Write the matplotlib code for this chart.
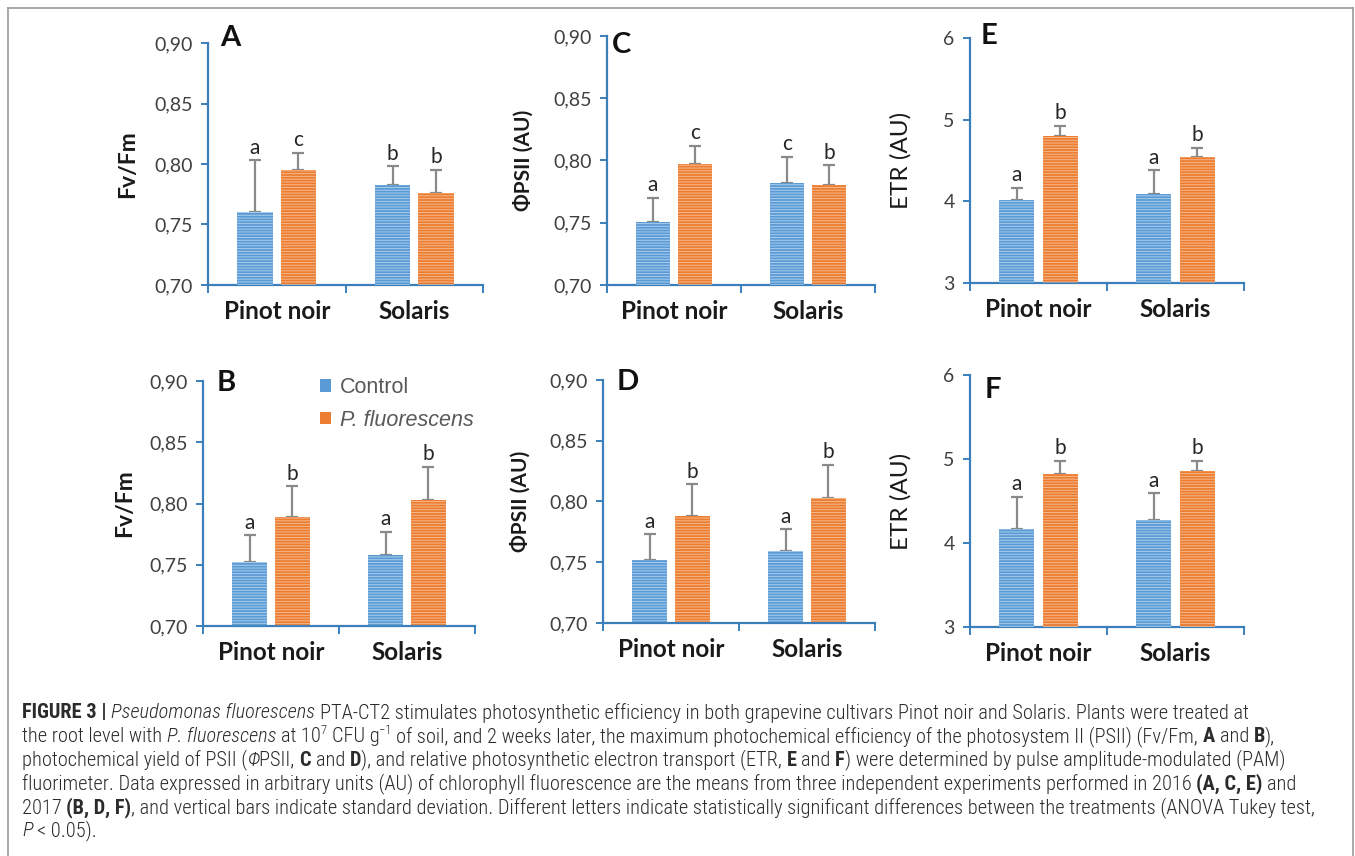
import matplotlib
matplotlib.use("Agg")
import matplotlib.pyplot as plt
from matplotlib import font_manager
from matplotlib.lines import Line2D
from matplotlib.patches import Patch

W, H = 1355, 856

cultivars = ["Pinot noir", "Solaris"]
treatments = ["Control", "P. fluorescens"]

# means and top of error bar, per panel: [Pinot noir, Solaris]
a_ctrl, a_ctrl_top = [0.760, 0.783], [0.803, 0.798]
a_pf, a_pf_top = [0.795, 0.776], [0.809, 0.795]
a_letters = [["a", "c"], ["b", "b"]]

b_ctrl, b_ctrl_top = [0.752, 0.758], [0.774, 0.777]
b_pf, b_pf_top = [0.789, 0.803], [0.814, 0.830]
b_letters = [["a", "b"], ["a", "b"]]

c_ctrl, c_ctrl_top = [0.751, 0.782], [0.770, 0.803]
c_pf, c_pf_top = [0.797, 0.780], [0.812, 0.796]
c_letters = [["a", "c"], ["c", "b"]]

d_ctrl, d_ctrl_top = [0.752, 0.759], [0.773, 0.777]
d_pf, d_pf_top = [0.788, 0.803], [0.814, 0.830]
d_letters = [["a", "b"], ["a", "b"]]

e_ctrl, e_ctrl_top = [4.02, 4.09], [4.16, 4.38]
e_pf, e_pf_top = [4.80, 4.54], [4.92, 4.65]
e_letters = [["a", "b"], ["a", "b"]]

f_ctrl, f_ctrl_top = [4.17, 4.27], [4.55, 4.59]
f_pf, f_pf_top = [4.82, 4.86], [4.975, 4.975]
f_letters = [["a", "b"], ["a", "b"]]

fv_ticks = [0.70, 0.75, 0.80, 0.85, 0.90]
fv_ticklabels = ["0,70", "0,75", "0,80", "0,85", "0,90"]
etr_ticks = [3, 4, 5, 6]
etr_ticklabels = ["3", "4", "5", "6"]

BLUE, BLUE_L = "#5b9bd5", "#a9cdee"
ORANGE, ORANGE_L = "#ed7d31", "#f6b98c"
SPINE = "#3b7fba"
FONT = ["Lato", "DejaVu Sans"]

names = {f.name for f in font_manager.fontManager.ttflist}
CAP_FONT = next((n for n in ["Liberation Sans Narrow", "Roboto Condensed", "Roboto"] if n in names),
                "DejaVu Sans")

plt.rcParams["hatch.linewidth"] = 0.7
fig = plt.figure(figsize=(W / 100, H / 100), dpi=100)


def px_axes(l, r, t, b):
    return fig.add_axes([l / W, 1 - b / H, (r - l) / W, (b - t) / H])


def panel(ax, ctrl, ctrl_top, pf, pf_top, letters, ylim, ticks, ticklabels,
          ylabel, ylabel_style, ylabel_x, tag, tag_x, tag_y):
    x = [0, 1]
    off, bw = 0.158, 0.255
    for vals, tops, col, light, sgn, k in [(ctrl, ctrl_top, BLUE, BLUE_L, -1, 0),
                                           (pf, pf_top, ORANGE, ORANGE_L, 1, 1)]:
        xs = [xi + sgn * off for xi in x]
        base = ylim[0]
        heights = [v - base for v in vals]
        ax.bar(xs, heights, bw, bottom=base, color=col, linewidth=0, zorder=2)
        ax.bar(xs, heights, bw, bottom=base, facecolor="none", edgecolor=light,
               hatch="------", linewidth=0, zorder=3)
        ax.errorbar(xs, vals, yerr=[[0, 0], [t - v for t, v in zip(tops, vals)]],
                    fmt="none", ecolor="#8a8a8a", elinewidth=1.6, capsize=4,
                    capthick=1.6, zorder=1)
        for xi, t, lab in zip(xs, tops, [letters[0][k], letters[1][k]]):
            ax.annotate(lab, (xi, t), xytext=(0, 2), textcoords="offset points",
                        ha="center", va="bottom", fontsize=15, family=FONT,
                        color="#262626")
    ax.set_xlim(-0.5, 1.5)
    ax.set_ylim(*ylim)
    ax.set_yticks(ticks)
    ax.set_yticklabels(ticklabels, family=FONT, fontsize=14, color="#404040")
    ax.set_xticks([-0.5, 0.5, 1.5])
    ax.set_xticklabels([])
    ax.set_xticks([0, 1], minor=True)
    ax.set_xticklabels(cultivars, minor=True, family=FONT, fontsize=17.5,
                       fontweight="bold", color="#1a1a1a")
    ax.tick_params(axis="x", which="minor", length=0, pad=11)
    ax.tick_params(axis="x", which="major", length=6, width=1.4, color=SPINE)
    ax.tick_params(axis="y", length=5, width=1.4, color=SPINE, pad=6)
    for s in ["top", "right"]:
        ax.spines[s].set_visible(False)
    for s in ["left", "bottom"]:
        ax.spines[s].set_color(SPINE)
        ax.spines[s].set_linewidth(1.6)
    lsize, lweight = ylabel_style
    ax.set_ylabel(ylabel, family=FONT, fontsize=lsize, fontweight=lweight, color="#1a1a1a")
    ax.yaxis.set_label_coords(ylabel_x, 0.5)
    ax.text(tag_x, tag_y, tag, transform=ax.transAxes, ha="left", va="center",
            family=FONT, fontsize=21, fontweight="bold", color="#111111")
    ax.set_facecolor("none")


FV = (16.5, "bold")
PHI = (15, "bold")
ETR = (17.5, "normal")

axA = px_axes(208, 483, 43, 285)
panel(axA, a_ctrl, a_ctrl_top, a_pf, a_pf_top, a_letters, (0.70, 0.90), fv_ticks,
      fv_ticklabels, "Fv/Fm", FV, -0.255, "A", 0.045, 1.02)
axC = px_axes(607, 875, 36, 285)
panel(axC, c_ctrl, c_ctrl_top, c_pf, c_pf_top, c_letters, (0.70, 0.90), fv_ticks,
      fv_ticklabels, "ΦPSII (AU)", PHI, -0.275, "C", 0.02, 0.965)
axE = px_axes(970, 1244, 38, 283)
panel(axE, e_ctrl, e_ctrl_top, e_pf, e_pf_top, e_letters, (3, 6), etr_ticks,
      etr_ticklabels, "ETR (AU)", ETR, -0.215, "E", 0.04, 1.01)
axB = px_axes(203, 475, 381, 626)
panel(axB, b_ctrl, b_ctrl_top, b_pf, b_pf_top, b_letters, (0.70, 0.90), fv_ticks,
      fv_ticklabels, "Fv/Fm", FV, -0.25, "B", 0.05, 0.99)
axD = px_axes(603, 875, 380, 623)
panel(axD, d_ctrl, d_ctrl_top, d_pf, d_pf_top, d_letters, (0.70, 0.90), fv_ticks,
      fv_ticklabels, "ΦPSII (AU)", PHI, -0.265, "D", 0.05, 0.99)
axF = px_axes(970, 1244, 375, 627)
panel(axF, f_ctrl, f_ctrl_top, f_pf, f_pf_top, f_letters, (3, 6), etr_ticks,
      etr_ticklabels, "ETR (AU)", ETR, -0.215, "F", 0.055, 0.94)

handles = [Patch(facecolor=BLUE, edgecolor="none"), Patch(facecolor=ORANGE, edgecolor="none")]
leg = axB.legend(handles, treatments, loc="upper left", bbox_to_anchor=(0.36, 1.095),
                 frameon=False, handlelength=0.5, handleheight=0.5, handletextpad=0.4,
                 labelspacing=0.55, prop={"family": "Liberation Sans", "size": 15.5})
for t in leg.get_texts():
    t.set_color("#595959")
leg.get_texts()[1].set_style("italic")

# frame round the whole figure
for xs, ys in [([8, 8], [8, 860]), ([8, 1353], [8, 8]), ([1353, 1353], [8, 860])]:
    fig.add_artist(Line2D([x / W for x in xs], [1 - y / H for y in ys],
                          color="#9a9a9a", lw=1.2))

# caption
N, B, I, S = "n", "b", "i", "s"
caption = [
    [("FIGURE 3 | ", B), ("Pseudomonas fluorescens", I),
     (" PTA-CT2 stimulates photosynthetic efficiency in both grapevine cultivars Pinot noir and Solaris. Plants were treated at", N)],
    [("the root level with ", N), ("P. fluorescens", I), (" at 10", N), ("7", S), (" CFU g", N),
     ("\u22121", S), (" of soil, and 2 weeks later, the maximum photochemical efficiency of the photosystem II (PSII) (Fv/Fm, ", N),
     ("A", B), (" and ", N), ("B", B), ("),", N)],
    [("photochemical yield of PSII (", N), ("Φ", I), ("PSII, ", N), ("C", B), (" and ", N), ("D", B),
     ("), and relative photosynthetic electron transport (ETR, ", N), ("E", B), (" and ", N), ("F", B),
     (") were determined by pulse amplitude-modulated (PAM)", N)],
    [("fluorimeter. Data expressed in arbitrary units (AU) of chlorophyll fluorescence are the means from three independent experiments performed in 2016 ", N),
     ("(A, C, E)", B), (" and", N)],
    [("2017 ", N), ("(B, D, F)", B),
     (", and vertical bars indicate standard deviation. Different letters indicate statistically significant differences between the treatments (ANOVA Tukey test,", N)],
    [("P", I), (" < 0.05).", N)],
]
line_y = [713, 737, 760, 784, 808, 831]
line_end = [1310, 1295, 1300, 1305, 1312, None]

renderer = fig.canvas.get_renderer()


def props(kind, size):
    d = {"family": [CAP_FONT, "DejaVu Sans"], "fontsize": size, "color": "#2b2b2b",
         "fontweight": "light"}
    if kind == B:
        d["fontweight"] = "bold"
    if kind == I:
        d["style"] = "italic"
    if kind == S:
        d["fontsize"] = size * 0.62
    return d


def measure(s, kind, size):
    t = fig.text(0, 0, s, **props(kind, size))
    w = t.get_window_extent(renderer).width
    t.remove()
    return w


def run_width(s, kind, size):
    lead = len(s) - len(s.lstrip(" "))
    sp = measure("x x", kind, size) - measure("xx", kind, size)
    core = s.lstrip(" ")
    return lead, sp, measure(core + "x", kind, size) - measure("x", kind, size)


def line_width(runs, size):
    tot = 0
    for s, k in runs:
        lead, sp, w = run_width(s, k, size)
        tot += lead * sp + w
    return tot


size = 10.0
size *= min((end - 22) / line_width(runs, size)
            for runs, end in zip(caption, line_end) if end)

for runs, y in zip(caption, line_y):
    x = 22
    for s, k in runs:
        lead, sp, w = run_width(s, k, size)
        x += lead * sp
        dy = -7 if k == S else 0
        fig.text(x / W, 1 - (y + dy) / H, s.lstrip(" "), va="center", ha="left", **props(k, size))
        x += w

fig.savefig("out.png", dpi=100)
